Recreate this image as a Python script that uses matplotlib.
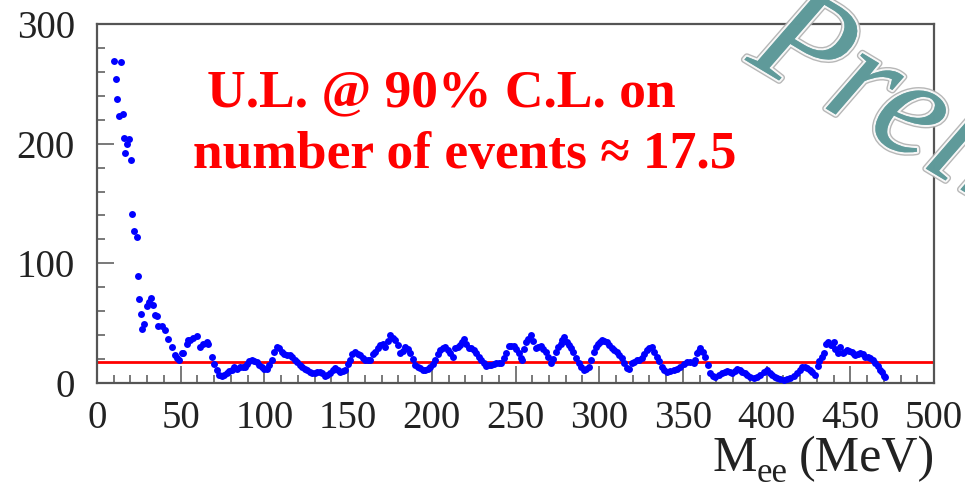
import matplotlib
matplotlib.use("Agg")
import matplotlib.pyplot as plt
import matplotlib.patheffects as pe

# ---- data ----
mass = [10.0, 11.2, 12.2, 13.3, 14.1, 15.7, 15.9, 16.7, 18.1, 19.3, 20.3, 21.1, 22.1, 23.7,
        24.3, 25.1, 26.1, 27.1, 28.1, 29.6, 31.0, 32.3, 33.7, 34.7, 35.6, 36.6, 38.7, 40.6,
        42.6, 44.6, 46.6, 48.0, 49.0,
        50.6, 51.6, 53.6, 54.6, 55.6, 57.6, 59.5, 61.6, 63.5, 65.6, 66.5, 68.5, 70.0, 71.5,
        73.0, 74.5, 76.0, 77.5, 79.0, 80.5, 82.0, 83.5, 85.5, 87.0, 88.5, 89.5, 91.0, 92.5,
        94.0, 95.5, 97.0, 98.4, 100.0, 101.4, 103.0, 104.4, 106.0, 107.4, 108.5, 110.4,
        112.0, 113.4, 115.0, 116.4, 118.0, 119.4, 121.0, 122.4, 124.0, 125.3, 127.0, 128.3,
        130.0, 131.3, 133.3, 134.5, 136.3, 137.3, 139.3, 141.0, 142.3, 144.0, 145.2, 147.0,
        148.2, 150.0, 151.2, 152.5, 154.2, 156.0, 157.2, 159.0, 160.2, 161.7, 163.2, 164.7,
        166.2, 167.7, 169.2, 170.7, 172.1, 173.6, 175.1, 176.6, 178.1, 179.6, 181.1, 182.6,
        184.1, 185.6, 187.1, 188.6, 190.1, 191.6, 193.1, 194.6, 196.0, 197.5, 199.0, 200.5,
        202.0, 203.5, 205.0, 206.5, 208.0, 209.5, 211.0, 212.5, 214.0, 215.5, 217.0, 218.3,
        219.4, 220.5, 222.0, 223.5, 225.0, 226.5, 228.0, 229.5, 231.0, 232.5, 234.0, 235.5,
        237.0, 238.5, 240.0, 241.5, 243.0, 244.5, 246.0, 247.5, 249.0, 250.5, 252.0, 253.0,
        254.0, 255.0, 256.0, 257.5, 259.0, 260.5, 262.0, 263.5, 265.0, 266.5, 268.0, 269.5,
        271.0, 272.5, 274.0, 275.5, 277.0, 278.0, 279.0, 280.5, 281.7, 283.0, 284.6, 286.0,
        287.7, 289.2, 290.7, 292.2, 293.7, 295.2, 296.7, 298.0, 299.0, 300.3, 301.6, 303.0,
        304.6, 306.0, 307.6, 309.0, 310.6, 312.0, 313.6, 315.0, 316.6, 318.0, 319.5, 321.0,
        322.5, 324.0, 325.5, 327.0, 328.5, 330.0, 331.5, 333.0, 334.5, 336.0, 337.5, 339.0,
        340.5, 342.5, 344.5, 346.5, 348.5, 350.5, 352.5, 354.5, 356.4, 357.5, 358.4, 359.4,
        360.4, 362.0, 363.4, 365.0, 366.4, 368.0, 369.4, 371.4, 373.4, 375.0, 376.4, 378.0,
        379.3, 381.0, 382.3, 384.0, 385.3, 387.0, 388.3, 390.3, 392.3, 394.3, 396.3, 398.3,
        400.3, 402.0, 403.2, 405.0, 406.2, 408.0, 410.2, 412.2, 414.2, 416.2, 418.2, 420.0,
        421.2, 422.7, 424.2, 426.0, 427.2, 429.2, 430.5, 431.5, 433.0, 434.2, 435.2, 436.5,
        438.2, 439.2, 440.1, 441.1, 442.5, 444.1, 445.5, 446.5, 448.0, 449.5, 451.0, 452.0,
        453.0, 454.5, 456.0, 457.5, 459.0, 460.5, 462.0, 463.5, 465.0, 466.5, 468.0, 469.0,
        470.0, 471.0]
events = [269, 254, 237, 223, 268, 225, 205, 192, 200, 204, 186, 141, 127, 122,
          89, 70, 58, 45, 49, 64, 68, 71, 65, 57, 56, 48, 48, 44,
          37, 30, 23, 21, 19,
          25, 25, 33, 36, 36, 38, 39, 30, 33, 34, 33, 22, 16, 11,
          7, 5.5, 7, 8.5, 10, 11, 13, 12, 13.6, 13, 13, 16, 18, 19.5,
          18, 17.8, 15, 13, 12, 11.5, 15, 19, 26, 30, 29, 26,
          24, 23.3, 23, 22, 19, 17.8, 15, 13.6, 12, 10.8, 9.5, 8.6,
          8, 9.4, 9.4, 8, 5.5, 6.7, 8.5, 11, 12.2, 10.5, 9.4, 10,
          10.8, 16, 19, 24, 26, 24.5, 23.3, 21, 19, 19, 19.5, 24,
          26, 29, 32, 32.5, 30, 35, 40, 38, 35.8, 32, 25, 27,
          30, 28, 24.7, 20, 15, 13, 12.2, 11, 10.8, 12, 13.6, 16,
          19, 24, 27.5, 29, 30, 27.5, 24.7, 22, 29, 30, 31.7, 34,
          37, 33, 29, 29, 27.5, 24.7, 22, 19, 16.4, 14, 15, 15,
          16, 16.4, 17, 17, 20.6, 25, 31, 31, 31, 28, 24.7, 21,
          19, 28, 34, 37, 40, 35, 29.5, 30, 31, 28, 26, 22,
          16.4, 20, 26, 30, 33, 36, 38.6, 34, 31.7, 29, 26, 21,
          16.4, 13, 10.8, 12, 13.6, 19, 26, 30, 33, 34.5, 35.8, 35,
          34.4, 31.5, 29, 27.5, 26, 23, 20.6, 17, 12.2, 11.5, 16.4, 17.5,
          19, 19.5, 20.6, 24, 27.5, 29, 30, 26, 22, 18, 13.6, 11,
          9.4, 10, 10.8, 12, 13.6, 15.5, 17.8, 17.5, 16.4, 19, 24.7, 27,
          29, 26, 22, 15, 8.5, 6, 5.3, 6.5, 8, 9, 10, 9,
          8.5, 10, 11.5, 10.5, 9.4, 8, 6.7, 5, 3.9, 5, 6.7, 9,
          10.8, 8.5, 6.7, 5, 3.9, 3, 2.5, 3, 3.9, 5.5, 8, 11,
          13.6, 13, 12.2, 11, 9.4, 6.7, 14, 18, 22, 25, 33, 34,
          31.7, 32, 34.4, 28, 25, 30, 25, 26, 27.5, 26.5, 26, 24,
          23.3, 24, 24.7, 24, 22, 21.5, 20.6, 19, 16.4, 14, 10.8, 9,
          6, 5]
upper_limit = 17.5
x_ticks = [0, 50, 100, 150, 200, 250, 300, 350, 400, 450, 500]
y_ticks = [0, 100, 200, 300]
annot_line1 = "U.L. @ 90% C.L. on"
annot_line2 = "number of events \u2248 17.5"
xlabel_main = "M"
xlabel_sub = "ee"
xlabel_unit = "(MeV)"
watermark = "Preliminary"

plt.rcParams['font.family'] = ['Liberation Serif', 'DejaVu Serif']

W, H = 965, 491
fig = plt.figure(figsize=(W / 100, H / 100), dpi=100)
ax = fig.add_axes([97 / W, 1 - 383 / H, (934 - 97) / W, (383 - 24) / H])

ax.plot(mass, events, linestyle='none', marker='o', ms=5.0, mew=0,
        color='#0000ff', zorder=3)
ax.axhline(upper_limit, color='#ff0000', lw=2.0, zorder=2)

ax.set_xlim(0, 500)
ax.set_ylim(0, 300)
ax.set_xticks(x_ticks)
ax.set_yticks(y_ticks)
ax.set_xticks(range(0, 501, 10), minor=True)
ax.set_yticks(range(0, 301, 20), minor=True)
frame_col = '#555555'
for s in ax.spines.values():
    s.set_color(frame_col)
    s.set_linewidth(1.6)
ax.tick_params(which='both', direction='in', color=frame_col, width=1.1,
               labelcolor='#222222', labelsize=28)
ax.tick_params(which='major', length=12)
ax.tick_params(which='minor', length=6)
ax.tick_params(axis='y', which='both', pad=16)
ax.tick_params(axis='x', which='both', pad=12)

# x-axis title: M_ee (MeV)
fig.text(712 / W, 1 - 471 / H, xlabel_main, ha='left', va='baseline',
         fontsize=36, color='#222222')
fig.text(757 / W, 1 - 482 / H, xlabel_sub, ha='left', va='baseline',
         fontsize=25, color='#222222')
fig.text(935 / W, 1 - 471 / H, xlabel_unit, ha='right', va='baseline',
         fontsize=36, color='#222222')

fig.text(207 / W, 1 - 106 / H, annot_line1, ha='left', va='baseline',
         fontsize=38.5, fontweight='bold', color='#ff0000')
fig.text(193 / W, 1 - 168 / H, annot_line2, ha='left', va='baseline',
         fontsize=38.5, fontweight='bold', color='#ff0000')

fig.text(745 / W, 1 - 60 / H, watermark, ha='left', va='baseline',
         rotation=-31, rotation_mode='anchor', fontsize=104, style='italic',
         color='#5f9a9a', alpha=0.9, zorder=10,
         path_effects=[pe.withStroke(linewidth=5, foreground='#b0b0b0'),
                       pe.withStroke(linewidth=3, foreground='white'),
                       pe.Normal()])

fig.savefig("out.png", dpi=100)
